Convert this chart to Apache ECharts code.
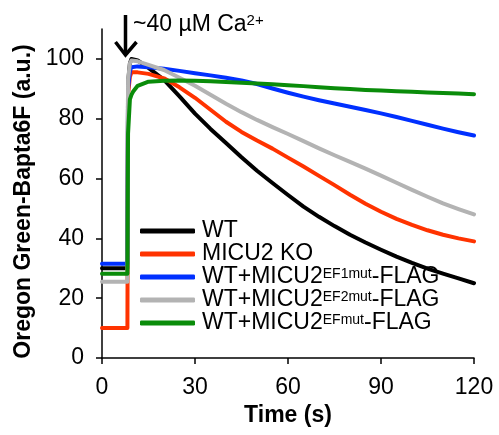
<!DOCTYPE html>
<html>
<head>
<meta charset="utf-8">
<script src="https://cdn.jsdelivr.net/npm/echarts@6/dist/echarts.min.js"></script>
<style>
html,body{margin:0;padding:0;background:#fff;}
#chart{width:499px;height:435px;}
</style>
</head>
<body>
<div id="chart"></div>
<script>
// Time points (s)
var times = [0, 8.2, 8.4, 9, 9.5, 10, 11.5, 15, 20, 25, 30, 35, 40, 45, 50, 55, 60, 65, 70, 75, 80, 85, 90, 95, 100, 105, 110, 115, 120];
// Series values (a.u.)
var wt      = [30, 30, 92, 98.5, 100, 100, 99.5, 97, 93, 87.5, 81.7, 76.6, 71.9, 67.1, 62.6, 58.5, 54.5, 50.6, 47.2, 44.1, 41.2, 38.6, 36.2, 33.9, 31.8, 29.9, 28.2, 26.6, 25];
var micu2ko = [10, 10, 88, 94, 95.5, 95.5, 95.5, 95, 93.5, 90.5, 87, 83, 79, 75.6, 72.7, 70, 67, 64, 60.9, 57.8, 54.6, 51.6, 48.9, 46.5, 44.5, 42.7, 41.2, 40, 39];
var ef1mut  = [31.5, 31.5, 90, 96, 97.2, 97.5, 97.5, 97.2, 96.7, 96, 95.2, 94.5, 93.7, 92.8, 91.6, 90.1, 88.7, 87.4, 86.2, 85.1, 84, 82.9, 81.8, 80.6, 79.3, 78, 76.7, 75.5, 74.4];
var ef2mut  = [25.5, 25.5, 93, 98.5, 99.5, 99.5, 99.2, 98, 96.3, 93.7, 91, 88, 85, 82.2, 79.6, 77.2, 74.9, 72.5, 70.1, 67.8, 65.6, 63.3, 61, 58.6, 56.2, 53.9, 51.7, 49.8, 48];
var efmut   = [28.2, 28.2, 75, 86.5, 88, 89, 91, 92.4, 92.7, 92.8, 92.7, 92.5, 92.3, 92, 91.8, 91.5, 91.2, 90.9, 90.5, 90.2, 89.9, 89.6, 89.4, 89.2, 89, 88.8, 88.6, 88.4, 88.2];
var seriesNames = ['WT', 'MICU2 KO', 'WT+MICU2EF1mut-FLAG', 'WT+MICU2EF2mut-FLAG', 'WT+MICU2EFmut-FLAG'];
var seriesValues = [wt, micu2ko, ef1mut, ef2mut, efmut];
var seriesColors = ['#000000', '#ff3300', '#0030ff', '#b3b3b3', '#0a8c0a'];
var xTicks = [0, 30, 60, 90, 120];
var yTicks = [0, 20, 40, 60, 80, 100];

var FONT = '"Liberation Sans", Arial, Helvetica, sans-serif';
var chart = echarts.init(document.getElementById('chart'), null, {renderer: 'canvas'});

function pairs(vals) { return times.map(function (t, i) { return [t, vals[i]]; }); }

var series = seriesNames.map(function (n, i) {
  return {
    name: n, type: 'line', data: pairs(seriesValues[i]),
    showSymbol: false, symbol: 'none', smooth: false,
    lineStyle: {color: seriesColors[i], width: 4, cap: 'round', join: 'round'},
    itemStyle: {color: seriesColors[i]},
    z: 2 + i, clip: false
  };
});

chart.setOption({
  animation: false,
  backgroundColor: '#fff',
  textStyle: {fontFamily: FONT},
  grid: {left: 102, right: 25, top: 29, bottom: 77, containLabel: false, outerBoundsMode: 'none'},
  xAxis: {
    type: 'value', min: 0, max: 120, interval: 30,
    name: 'Time (s)', nameLocation: 'middle', nameGap: 45,
    nameTextStyle: {fontFamily: FONT, fontSize: 23, fontWeight: 'bold', color: '#000'},
    axisLine: {show: true, onZero: false, lineStyle: {color: '#000', width: 1.5}},
    axisTick: {show: true, length: 6, lineStyle: {color: '#000', width: 1.5}, customValues: xTicks},
    axisLabel: {fontFamily: FONT, fontSize: 23, color: '#000', margin: 18, customValues: xTicks},
    splitLine: {show: false}
  },
  yAxis: {
    type: 'value', min: 0, max: 110,
    name: 'Oregon Green-Bapta6F (a.u.)', nameLocation: 'middle', nameGap: 62, nameRotate: 90,
    nameTextStyle: {fontFamily: FONT, fontSize: 23, fontWeight: 'bold', color: '#000', padding: [0, 16, 0, 0]},
    axisLine: {show: true, onZero: false, lineStyle: {color: '#000', width: 1.5}},
    axisTick: {show: true, length: 6, lineStyle: {color: '#000', width: 1.5}, customValues: yTicks},
    axisLabel: {fontFamily: FONT, fontSize: 23, color: '#000', margin: 18, customValues: yTicks},
    splitLine: {show: false}
  },
  legend: {
    orient: 'vertical', left: 135, top: 214.5, itemGap: 0,
    itemWidth: 55, itemHeight: 5, icon: 'roundRect', selectedMode: false,
    data: seriesNames.map(function (n, i) { return {name: n, itemStyle: {color: seriesColors[i]}}; }),
    formatter: function (name) {
      var m = name.match(/^WT\+MICU2(EF\w*mut)-FLAG$/);
      if (m) return '{a|WT+MICU2}{s|' + m[1] + '}{a|-FLAG}';
      return '{a|' + name + '}';
    },
    textStyle: {
      padding: [0, 0, 0, 2],
      rich: {
        a: {fontFamily: FONT, fontSize: 23, color: '#000', lineHeight: 29},
        s: {fontFamily: FONT, fontSize: 14, color: '#000', lineHeight: 14, padding: [0, 0, 5, 0]}
      }
    }
  },
  series: series
});

// Annotation: arrow and label at the Ca2+ addition time
var tip = chart.convertToPixel({gridIndex: 0}, [7.5, 103]);
var ax = Math.round(tip[0]) + 0.5;
chart.setOption({
  graphic: [
    {type: 'line', shape: {x1: ax, y1: 15, x2: ax, y2: 54}, style: {stroke: '#000', lineWidth: 3.5}},
    {type: 'polyline', shape: {points: [[ax - 10, 42], [ax, 55], [ax + 11, 42]]}, style: {stroke: '#000', lineWidth: 3.5, fill: null, lineJoin: 'miter'}},
    {type: 'text', left: 133, top: 13, style: {
      text: '{a|~40 µM Ca}{s|2+}',
      rich: {
        a: {fontFamily: FONT, fontSize: 23, fill: '#000', lineHeight: 29},
        s: {fontFamily: FONT, fontSize: 15, fill: '#000', lineHeight: 15, padding: [0, 0, 7, 0]}
      }
    }}
  ]
});
</script>
</body>
</html>
